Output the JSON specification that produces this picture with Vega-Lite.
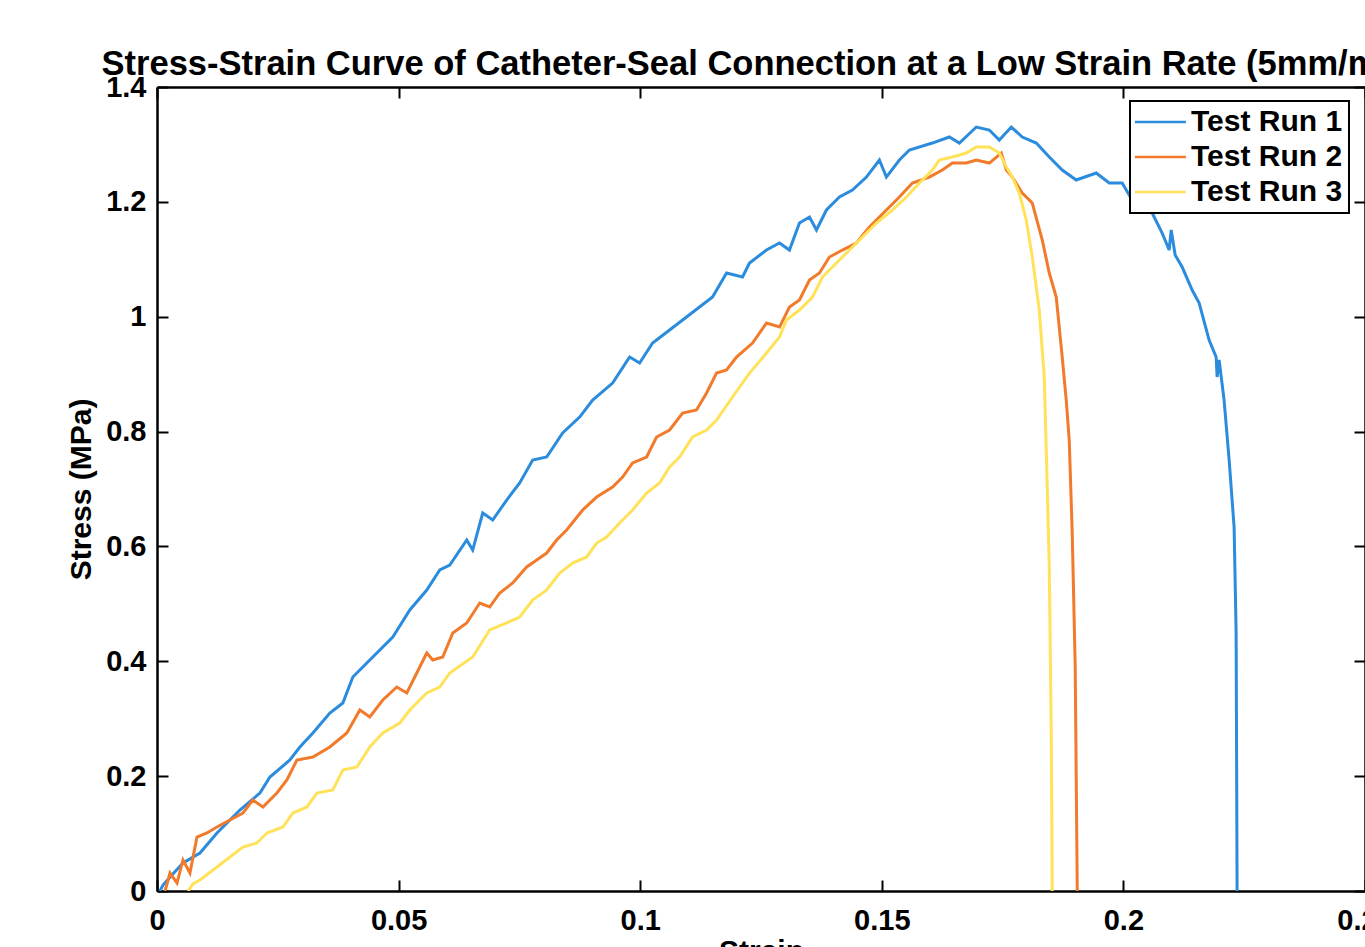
{
  "$schema": "https://vega.github.io/schema/vega-lite/v6.json",
  "width": 1208,
  "height": 804,
  "autosize": {"type": "none"},
  "padding": {"left": 157, "top": 87, "right": 0, "bottom": 56},
  "background": "white",
  "title": {
    "text": "Stress-Strain Curve of Catheter-Seal Connection at a Low Strain Rate (5mm/min)",
    "font": "Liberation Sans",
    "fontSize": 34.5,
    "fontWeight": "bold",
    "color": "black",
    "anchor": "middle",
    "frame": "group",
    "baseline": "alphabetic",
    "offset": 12,
    "dy": 48
  },
  "config": {
    "view": {"stroke": null},
    "axis": {
      "grid": false,
      "domainColor": "black",
      "domainWidth": 2.5,
      "tickColor": "black",
      "tickWidth": 2,
      "tickSize": -11,
      "labelFont": "Liberation Sans",
      "labelFontWeight": "bold",
      "labelFontSize": 29,
      "labelColor": "black",
      "labelFlush": false,
      "labelOverlap": false,
      "labelBound": false,
      "titleFont": "Liberation Sans",
      "titleFontWeight": "bold",
      "titleFontSize": 30,
      "titleColor": "black"
    },
    "legend": {
      "strokeColor": "black",
      "strokeWidth": 2,
      "fillColor": "white",
      "padding": 6,
      "labelFont": "Liberation Sans",
      "labelFontWeight": "bold",
      "labelFontSize": 30,
      "labelColor": "black",
      "labelOffset": 36,
      "symbolOffset": -11,
      "rowPadding": 5,
      "symbolType": "M-1,0H9",
      "symbolSize": 104,
      "symbolStrokeWidth": 2.5
    }
  },
  "data": {
    "values": [
      {"run": "Test Run 1", "strain": 0.0006, "stress": 0.0},
      {"run": "Test Run 1", "strain": 0.00124, "stress": 0.0104},
      {"run": "Test Run 1", "strain": 0.0031, "stress": 0.0279},
      {"run": "Test Run 1", "strain": 0.00538, "stress": 0.0488},
      {"run": "Test Run 1", "strain": 0.00889, "stress": 0.0662},
      {"run": "Test Run 1", "strain": 0.01241, "stress": 0.101},
      {"run": "Test Run 1", "strain": 0.01716, "stress": 0.141},
      {"run": "Test Run 1", "strain": 0.0213, "stress": 0.1706},
      {"run": "Test Run 1", "strain": 0.02337, "stress": 0.1985},
      {"run": "Test Run 1", "strain": 0.0275, "stress": 0.2281},
      {"run": "Test Run 1", "strain": 0.02957, "stress": 0.2507},
      {"run": "Test Run 1", "strain": 0.03226, "stress": 0.2751},
      {"run": "Test Run 1", "strain": 0.03577, "stress": 0.3099},
      {"run": "Test Run 1", "strain": 0.03846, "stress": 0.3273},
      {"run": "Test Run 1", "strain": 0.04053, "stress": 0.3726},
      {"run": "Test Run 1", "strain": 0.04404, "stress": 0.4022},
      {"run": "Test Run 1", "strain": 0.0488, "stress": 0.4423},
      {"run": "Test Run 1", "strain": 0.05232, "stress": 0.4893},
      {"run": "Test Run 1", "strain": 0.05583, "stress": 0.5241},
      {"run": "Test Run 1", "strain": 0.05852, "stress": 0.5589},
      {"run": "Test Run 1", "strain": 0.06059, "stress": 0.5676},
      {"run": "Test Run 1", "strain": 0.0641, "stress": 0.6112},
      {"run": "Test Run 1", "strain": 0.06534, "stress": 0.5937},
      {"run": "Test Run 1", "strain": 0.06741, "stress": 0.6582},
      {"run": "Test Run 1", "strain": 0.06948, "stress": 0.646},
      {"run": "Test Run 1", "strain": 0.07237, "stress": 0.6808},
      {"run": "Test Run 1", "strain": 0.07506, "stress": 0.7104},
      {"run": "Test Run 1", "strain": 0.07775, "stress": 0.7505},
      {"run": "Test Run 1", "strain": 0.08065, "stress": 0.7557},
      {"run": "Test Run 1", "strain": 0.08395, "stress": 0.7975},
      {"run": "Test Run 1", "strain": 0.08747, "stress": 0.8253},
      {"run": "Test Run 1", "strain": 0.09016, "stress": 0.8549},
      {"run": "Test Run 1", "strain": 0.09429, "stress": 0.8845},
      {"run": "Test Run 1", "strain": 0.09781, "stress": 0.9298},
      {"run": "Test Run 1", "strain": 0.09988, "stress": 0.9194},
      {"run": "Test Run 1", "strain": 0.10256, "stress": 0.9542},
      {"run": "Test Run 1", "strain": 0.10608, "stress": 0.9768},
      {"run": "Test Run 1", "strain": 0.11228, "stress": 1.0169},
      {"run": "Test Run 1", "strain": 0.11497, "stress": 1.0343},
      {"run": "Test Run 1", "strain": 0.11787, "stress": 1.0761},
      {"run": "Test Run 1", "strain": 0.12118, "stress": 1.0691},
      {"run": "Test Run 1", "strain": 0.12262, "stress": 1.0935},
      {"run": "Test Run 1", "strain": 0.12614, "stress": 1.1161},
      {"run": "Test Run 1", "strain": 0.12883, "stress": 1.1283},
      {"run": "Test Run 1", "strain": 0.13089, "stress": 1.1161},
      {"run": "Test Run 1", "strain": 0.13296, "stress": 1.1631},
      {"run": "Test Run 1", "strain": 0.13503, "stress": 1.1736},
      {"run": "Test Run 1", "strain": 0.13648, "stress": 1.151},
      {"run": "Test Run 1", "strain": 0.13854, "stress": 1.1858},
      {"run": "Test Run 1", "strain": 0.14123, "stress": 1.2084},
      {"run": "Test Run 1", "strain": 0.14392, "stress": 1.2206},
      {"run": "Test Run 1", "strain": 0.14682, "stress": 1.2432},
      {"run": "Test Run 1", "strain": 0.1495, "stress": 1.2728},
      {"run": "Test Run 1", "strain": 0.15095, "stress": 1.2432},
      {"run": "Test Run 1", "strain": 0.15364, "stress": 1.2728},
      {"run": "Test Run 1", "strain": 0.15571, "stress": 1.2902},
      {"run": "Test Run 1", "strain": 0.16046, "stress": 1.3024},
      {"run": "Test Run 1", "strain": 0.16398, "stress": 1.3129},
      {"run": "Test Run 1", "strain": 0.16605, "stress": 1.3024},
      {"run": "Test Run 1", "strain": 0.16956, "stress": 1.3303},
      {"run": "Test Run 1", "strain": 0.17225, "stress": 1.3251},
      {"run": "Test Run 1", "strain": 0.17432, "stress": 1.3077},
      {"run": "Test Run 1", "strain": 0.1768, "stress": 1.3303},
      {"run": "Test Run 1", "strain": 0.17907, "stress": 1.3129},
      {"run": "Test Run 1", "strain": 0.18197, "stress": 1.3024},
      {"run": "Test Run 1", "strain": 0.18466, "stress": 1.278},
      {"run": "Test Run 1", "strain": 0.18734, "stress": 1.2554},
      {"run": "Test Run 1", "strain": 0.19024, "stress": 1.238},
      {"run": "Test Run 1", "strain": 0.19438, "stress": 1.2502},
      {"run": "Test Run 1", "strain": 0.19706, "stress": 1.2328},
      {"run": "Test Run 1", "strain": 0.19975, "stress": 1.2328},
      {"run": "Test Run 1", "strain": 0.20265, "stress": 1.191},
      {"run": "Test Run 1", "strain": 0.20596, "stress": 1.1805},
      {"run": "Test Run 1", "strain": 0.20802, "stress": 1.1457},
      {"run": "Test Run 1", "strain": 0.20947, "stress": 1.1161},
      {"run": "Test Run 1", "strain": 0.20989, "stress": 1.151},
      {"run": "Test Run 1", "strain": 0.21071, "stress": 1.1074},
      {"run": "Test Run 1", "strain": 0.21216, "stress": 1.0865},
      {"run": "Test Run 1", "strain": 0.21423, "stress": 1.0465},
      {"run": "Test Run 1", "strain": 0.21568, "stress": 1.0238},
      {"run": "Test Run 1", "strain": 0.21774, "stress": 0.9594},
      {"run": "Test Run 1", "strain": 0.21919, "stress": 0.9298},
      {"run": "Test Run 1", "strain": 0.2194, "stress": 0.895},
      {"run": "Test Run 1", "strain": 0.21981, "stress": 0.9246},
      {"run": "Test Run 1", "strain": 0.22084, "stress": 0.8549},
      {"run": "Test Run 1", "strain": 0.22188, "stress": 0.7505},
      {"run": "Test Run 1", "strain": 0.22291, "stress": 0.6338},
      {"run": "Test Run 1", "strain": 0.22333, "stress": 0.4492},
      {"run": "Test Run 1", "strain": 0.22353, "stress": 0.0},

      {"run": "Test Run 2", "strain": 0.00165, "stress": 0.0},
      {"run": "Test Run 2", "strain": 0.00207, "stress": 0.0122},
      {"run": "Test Run 2", "strain": 0.00269, "stress": 0.0313},
      {"run": "Test Run 2", "strain": 0.00414, "stress": 0.0139},
      {"run": "Test Run 2", "strain": 0.00538, "stress": 0.054},
      {"run": "Test Run 2", "strain": 0.00682, "stress": 0.0313},
      {"run": "Test Run 2", "strain": 0.00827, "stress": 0.094},
      {"run": "Test Run 2", "strain": 0.01034, "stress": 0.101},
      {"run": "Test Run 2", "strain": 0.01241, "stress": 0.1114},
      {"run": "Test Run 2", "strain": 0.0151, "stress": 0.1236},
      {"run": "Test Run 2", "strain": 0.01778, "stress": 0.1358},
      {"run": "Test Run 2", "strain": 0.01985, "stress": 0.1584},
      {"run": "Test Run 2", "strain": 0.02192, "stress": 0.1463},
      {"run": "Test Run 2", "strain": 0.02481, "stress": 0.1706},
      {"run": "Test Run 2", "strain": 0.02688, "stress": 0.1933},
      {"run": "Test Run 2", "strain": 0.02895, "stress": 0.2281},
      {"run": "Test Run 2", "strain": 0.03226, "stress": 0.2333},
      {"run": "Test Run 2", "strain": 0.03577, "stress": 0.2507},
      {"run": "Test Run 2", "strain": 0.03929, "stress": 0.2751},
      {"run": "Test Run 2", "strain": 0.04198, "stress": 0.3152},
      {"run": "Test Run 2", "strain": 0.04404, "stress": 0.303},
      {"run": "Test Run 2", "strain": 0.04673, "stress": 0.3326},
      {"run": "Test Run 2", "strain": 0.04963, "stress": 0.3552},
      {"run": "Test Run 2", "strain": 0.0517, "stress": 0.3448},
      {"run": "Test Run 2", "strain": 0.05376, "stress": 0.3796},
      {"run": "Test Run 2", "strain": 0.05583, "stress": 0.4144},
      {"run": "Test Run 2", "strain": 0.05707, "stress": 0.4022},
      {"run": "Test Run 2", "strain": 0.05914, "stress": 0.4074},
      {"run": "Test Run 2", "strain": 0.06121, "stress": 0.4492},
      {"run": "Test Run 2", "strain": 0.0641, "stress": 0.4667},
      {"run": "Test Run 2", "strain": 0.06679, "stress": 0.5015},
      {"run": "Test Run 2", "strain": 0.06886, "stress": 0.4945},
      {"run": "Test Run 2", "strain": 0.07093, "stress": 0.5189},
      {"run": "Test Run 2", "strain": 0.07361, "stress": 0.5363},
      {"run": "Test Run 2", "strain": 0.07651, "stress": 0.5642},
      {"run": "Test Run 2", "strain": 0.07858, "stress": 0.5763},
      {"run": "Test Run 2", "strain": 0.08065, "stress": 0.5885},
      {"run": "Test Run 2", "strain": 0.08271, "stress": 0.6112},
      {"run": "Test Run 2", "strain": 0.08478, "stress": 0.6286},
      {"run": "Test Run 2", "strain": 0.08809, "stress": 0.6634},
      {"run": "Test Run 2", "strain": 0.09098, "stress": 0.686},
      {"run": "Test Run 2", "strain": 0.09429, "stress": 0.7035},
      {"run": "Test Run 2", "strain": 0.09636, "stress": 0.7209},
      {"run": "Test Run 2", "strain": 0.09843, "stress": 0.7453},
      {"run": "Test Run 2", "strain": 0.10132, "stress": 0.7557},
      {"run": "Test Run 2", "strain": 0.10339, "stress": 0.7905},
      {"run": "Test Run 2", "strain": 0.10608, "stress": 0.8027},
      {"run": "Test Run 2", "strain": 0.10877, "stress": 0.8323},
      {"run": "Test Run 2", "strain": 0.11166, "stress": 0.8375},
      {"run": "Test Run 2", "strain": 0.11373, "stress": 0.8671},
      {"run": "Test Run 2", "strain": 0.1158, "stress": 0.9019},
      {"run": "Test Run 2", "strain": 0.11787, "stress": 0.9072},
      {"run": "Test Run 2", "strain": 0.11993, "stress": 0.9298},
      {"run": "Test Run 2", "strain": 0.12324, "stress": 0.9542},
      {"run": "Test Run 2", "strain": 0.12614, "stress": 0.989},
      {"run": "Test Run 2", "strain": 0.12883, "stress": 0.982},
      {"run": "Test Run 2", "strain": 0.13089, "stress": 1.0169},
      {"run": "Test Run 2", "strain": 0.13296, "stress": 1.0291},
      {"run": "Test Run 2", "strain": 0.13503, "stress": 1.0639},
      {"run": "Test Run 2", "strain": 0.1371, "stress": 1.0761},
      {"run": "Test Run 2", "strain": 0.13916, "stress": 1.1039},
      {"run": "Test Run 2", "strain": 0.14185, "stress": 1.1161},
      {"run": "Test Run 2", "strain": 0.14475, "stress": 1.1283},
      {"run": "Test Run 2", "strain": 0.14744, "stress": 1.1562},
      {"run": "Test Run 2", "strain": 0.15095, "stress": 1.1858},
      {"run": "Test Run 2", "strain": 0.15364, "stress": 1.2084},
      {"run": "Test Run 2", "strain": 0.15633, "stress": 1.2328},
      {"run": "Test Run 2", "strain": 0.15984, "stress": 1.2432},
      {"run": "Test Run 2", "strain": 0.16253, "stress": 1.2554},
      {"run": "Test Run 2", "strain": 0.1646, "stress": 1.2676},
      {"run": "Test Run 2", "strain": 0.16749, "stress": 1.2676},
      {"run": "Test Run 2", "strain": 0.16956, "stress": 1.2728},
      {"run": "Test Run 2", "strain": 0.17225, "stress": 1.2676},
      {"run": "Test Run 2", "strain": 0.17473, "stress": 1.285},
      {"run": "Test Run 2", "strain": 0.17577, "stress": 1.2554},
      {"run": "Test Run 2", "strain": 0.17701, "stress": 1.2432},
      {"run": "Test Run 2", "strain": 0.17907, "stress": 1.2154},
      {"run": "Test Run 2", "strain": 0.18114, "stress": 1.198},
      {"run": "Test Run 2", "strain": 0.18321, "stress": 1.1335},
      {"run": "Test Run 2", "strain": 0.18466, "stress": 1.0761},
      {"run": "Test Run 2", "strain": 0.1861, "stress": 1.0343},
      {"run": "Test Run 2", "strain": 0.18734, "stress": 0.9298},
      {"run": "Test Run 2", "strain": 0.18817, "stress": 0.8549},
      {"run": "Test Run 2", "strain": 0.18879, "stress": 0.7853},
      {"run": "Test Run 2", "strain": 0.18941, "stress": 0.6234},
      {"run": "Test Run 2", "strain": 0.19003, "stress": 0.39},
      {"run": "Test Run 2", "strain": 0.19045, "stress": 0.0},

      {"run": "Test Run 3", "strain": 0.00641, "stress": 0.0},
      {"run": "Test Run 3", "strain": 0.00744, "stress": 0.0122},
      {"run": "Test Run 3", "strain": 0.00889, "stress": 0.0192},
      {"run": "Test Run 3", "strain": 0.01241, "stress": 0.0418},
      {"run": "Test Run 3", "strain": 0.0151, "stress": 0.0592},
      {"run": "Test Run 3", "strain": 0.01778, "stress": 0.0766},
      {"run": "Test Run 3", "strain": 0.02068, "stress": 0.0836},
      {"run": "Test Run 3", "strain": 0.02275, "stress": 0.101},
      {"run": "Test Run 3", "strain": 0.02605, "stress": 0.1114},
      {"run": "Test Run 3", "strain": 0.02812, "stress": 0.1358},
      {"run": "Test Run 3", "strain": 0.03102, "stress": 0.1463},
      {"run": "Test Run 3", "strain": 0.03309, "stress": 0.1706},
      {"run": "Test Run 3", "strain": 0.03639, "stress": 0.1759},
      {"run": "Test Run 3", "strain": 0.03846, "stress": 0.2107},
      {"run": "Test Run 3", "strain": 0.04136, "stress": 0.2159},
      {"run": "Test Run 3", "strain": 0.04404, "stress": 0.2507},
      {"run": "Test Run 3", "strain": 0.04673, "stress": 0.2751},
      {"run": "Test Run 3", "strain": 0.05025, "stress": 0.2925},
      {"run": "Test Run 3", "strain": 0.05232, "stress": 0.3152},
      {"run": "Test Run 3", "strain": 0.05583, "stress": 0.3448},
      {"run": "Test Run 3", "strain": 0.05852, "stress": 0.3552},
      {"run": "Test Run 3", "strain": 0.06059, "stress": 0.3796},
      {"run": "Test Run 3", "strain": 0.06534, "stress": 0.4074},
      {"run": "Test Run 3", "strain": 0.06886, "stress": 0.4545},
      {"run": "Test Run 3", "strain": 0.07237, "stress": 0.4667},
      {"run": "Test Run 3", "strain": 0.07506, "stress": 0.4771},
      {"run": "Test Run 3", "strain": 0.07775, "stress": 0.5067},
      {"run": "Test Run 3", "strain": 0.08065, "stress": 0.5241},
      {"run": "Test Run 3", "strain": 0.08333, "stress": 0.5537},
      {"run": "Test Run 3", "strain": 0.08602, "stress": 0.5711},
      {"run": "Test Run 3", "strain": 0.08892, "stress": 0.5816},
      {"run": "Test Run 3", "strain": 0.09098, "stress": 0.6059},
      {"run": "Test Run 3", "strain": 0.09305, "stress": 0.6164},
      {"run": "Test Run 3", "strain": 0.09574, "stress": 0.6408},
      {"run": "Test Run 3", "strain": 0.09843, "stress": 0.6634},
      {"run": "Test Run 3", "strain": 0.10132, "stress": 0.693},
      {"run": "Test Run 3", "strain": 0.10401, "stress": 0.7104},
      {"run": "Test Run 3", "strain": 0.10608, "stress": 0.7383},
      {"run": "Test Run 3", "strain": 0.10815, "stress": 0.7557},
      {"run": "Test Run 3", "strain": 0.11084, "stress": 0.7905},
      {"run": "Test Run 3", "strain": 0.11373, "stress": 0.8027},
      {"run": "Test Run 3", "strain": 0.1158, "stress": 0.8201},
      {"run": "Test Run 3", "strain": 0.11911, "stress": 0.8602},
      {"run": "Test Run 3", "strain": 0.12262, "stress": 0.9019},
      {"run": "Test Run 3", "strain": 0.12614, "stress": 0.9368},
      {"run": "Test Run 3", "strain": 0.12883, "stress": 0.9646},
      {"run": "Test Run 3", "strain": 0.13027, "stress": 0.9942},
      {"run": "Test Run 3", "strain": 0.13296, "stress": 1.0116},
      {"run": "Test Run 3", "strain": 0.13565, "stress": 1.0343},
      {"run": "Test Run 3", "strain": 0.13772, "stress": 1.0691},
      {"run": "Test Run 3", "strain": 0.14061, "stress": 1.0935},
      {"run": "Test Run 3", "strain": 0.1433, "stress": 1.1161},
      {"run": "Test Run 3", "strain": 0.14599, "stress": 1.1388},
      {"run": "Test Run 3", "strain": 0.14888, "stress": 1.1631},
      {"run": "Test Run 3", "strain": 0.15219, "stress": 1.1858},
      {"run": "Test Run 3", "strain": 0.15509, "stress": 1.2084},
      {"run": "Test Run 3", "strain": 0.15778, "stress": 1.2328},
      {"run": "Test Run 3", "strain": 0.16046, "stress": 1.2554},
      {"run": "Test Run 3", "strain": 0.16191, "stress": 1.2728},
      {"run": "Test Run 3", "strain": 0.1646, "stress": 1.278},
      {"run": "Test Run 3", "strain": 0.16749, "stress": 1.285},
      {"run": "Test Run 3", "strain": 0.16956, "stress": 1.2954},
      {"run": "Test Run 3", "strain": 0.17225, "stress": 1.2954},
      {"run": "Test Run 3", "strain": 0.17432, "stress": 1.285},
      {"run": "Test Run 3", "strain": 0.17577, "stress": 1.2606},
      {"run": "Test Run 3", "strain": 0.17701, "stress": 1.2432},
      {"run": "Test Run 3", "strain": 0.17845, "stress": 1.2154},
      {"run": "Test Run 3", "strain": 0.1799, "stress": 1.1684},
      {"run": "Test Run 3", "strain": 0.18114, "stress": 1.1039},
      {"run": "Test Run 3", "strain": 0.18259, "stress": 1.0116},
      {"run": "Test Run 3", "strain": 0.18362, "stress": 0.895},
      {"run": "Test Run 3", "strain": 0.18424, "stress": 0.7035},
      {"run": "Test Run 3", "strain": 0.18466, "stress": 0.5642},
      {"run": "Test Run 3", "strain": 0.18507, "stress": 0.2751},
      {"run": "Test Run 3", "strain": 0.18528, "stress": 0.0}
    ]
  },
  "layer": [
    {
      "mark": {"type": "line", "strokeWidth": 3, "clip": true},
      "encoding": {
        "x": {
          "field": "strain", "type": "quantitative",
          "scale": {"domain": [0, 0.25], "nice": false, "zero": false},
          "axis": {"orient": "bottom", "values": [0, 0.05, 0.1, 0.15, 0.2, 0.25], "format": ".2~f", "title": "Strain", "labelPadding": 26, "titlePadding": 1}
        },
        "y": {
          "field": "stress", "type": "quantitative",
          "scale": {"domain": [0, 1.4], "nice": false, "zero": false},
          "axis": {"orient": "left", "values": [0, 0.2, 0.4, 0.6, 0.8, 1, 1.2, 1.4], "format": ".1~f", "title": "Stress (MPa)", "labelPadding": 22, "titlePadding": 9}
        },
        "color": {
          "field": "run", "type": "nominal",
          "scale": {"domain": ["Test Run 1", "Test Run 2", "Test Run 3"], "range": ["#2B8BDC", "#F27A2B", "#FFE259"]},
          "legend": {"orient": "none", "legendX": 973, "legendY": 14, "title": null}
        }
      }
    },
    {
      "mark": {"type": "line", "strokeOpacity": 0},
      "encoding": {
        "x": {
          "field": "strain", "type": "quantitative",
          "axis": {"orient": "top", "values": [0, 0.05, 0.1, 0.15, 0.2, 0.25], "labels": false, "title": null}
        },
        "y": {
          "field": "stress", "type": "quantitative",
          "axis": {"orient": "right", "values": [0, 0.2, 0.4, 0.6, 0.8, 1, 1.2, 1.4], "labels": false, "title": null}
        },
        "detail": {"field": "run", "type": "nominal"}
      }
    }
  ],
  "resolve": {"axis": {"x": "independent", "y": "independent"}}
}
